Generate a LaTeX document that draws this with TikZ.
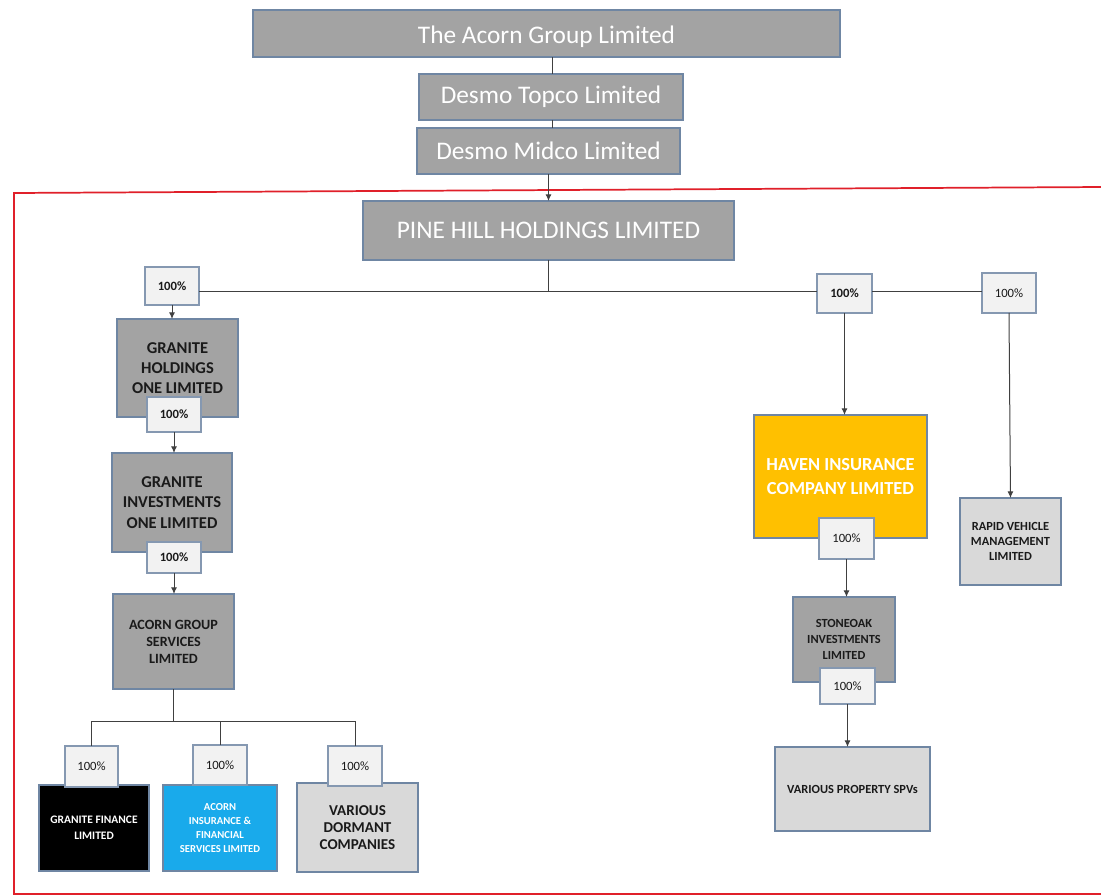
\documentclass[tikz,border=0pt]{standalone}
\usepackage{fontspec}
\setmainfont{Carlito}
\usetikzlibrary{arrows.meta}
\definecolor{dgray}{HTML}{A3A3A3}
\definecolor{lgray}{HTML}{D9D9D9}
\definecolor{pgray}{HTML}{F2F2F2}
\definecolor{bblue}{HTML}{6F86A3}
\definecolor{hav}{HTML}{FFC000}
\definecolor{acblue}{HTML}{19AAEB}
\definecolor{conn}{HTML}{404040}
\definecolor{redframe}{HTML}{E0202A}
\definecolor{ink}{HTML}{1A1A1A}
\newcommand\bx[7]{\node[#6,minimum width={(#4-#2)*0.75pt},minimum height={(#5-#3)*0.75pt}] (#1) at ({(#2+#4)/2},{(#3+#5)/2}) {#7};}
\tikzset{
  box/.style={draw=bblue, line width=0.8pt, inner sep=0pt, outer sep=0pt, align=center},
  dbox/.style={box, fill=dgray},
  topbox/.style={dbox, text=white, font=\fontsize{19}{22}\selectfont},
  darkbox/.style={dbox, text=ink, font=\fontsize{12.4}{14.8}\selectfont\bfseries},
  lbox/.style={box, fill=lgray, text=ink},
  pct/.style={box, fill=pgray, draw=bblue!85, text=ink, font=\fontsize{9.5}{11}\selectfont},
  pctb/.style={pct, font=\fontsize{9.5}{11}\selectfont\bfseries},
  line/.style={draw=conn, line width=0.75pt},
  arr/.style={line, -{Latex[length=5pt,width=4.5pt]}},
}
\begin{document}
\begin{tikzpicture}[x=0.75pt,y=-0.75pt]
\useasboundingbox (0,0) rectangle (1101,895);
% red frame
\draw[redframe, line width=1.3pt] (1104,187) -- (14,193) -- (14,894) -- (1104,894);
% main boxes
\bx{acorn}{253}{10}{840}{57}{topbox, text depth=0pt}{\raisebox{-2pt}{The Acorn Group Limited}}
\bx{topco}{419}{74}{683}{120}{topbox}{Desmo Topco Limited}
\bx{midco}{417}{128}{680}{174}{topbox}{Desmo Midco Limited}
\bx{ph}{363}{201}{734}{260}{dbox, text=white, font=\fontsize{19}{22}\selectfont}{PINE HILL HOLDINGS LIMITED}
\bx{gh}{117}{319}{238}{417}{darkbox}{GRANITE\\HOLDINGS\\ONE LIMITED}
\bx{gi}{112}{453}{232}{552}{darkbox, font=\fontsize{12.4}{15.4}\selectfont\bfseries}{GRANITE\\INVESTMENTS\\ONE LIMITED}
\bx{acs}{113}{594}{234}{689}{darkbox, font=\fontsize{10.6}{12.7}\selectfont\bfseries}{ACORN GROUP\\SERVICES\\LIMITED}
\bx{gf}{39}{785}{149}{871}{box, fill=black, text=white, font=\fontsize{8.6}{12}\selectfont\bfseries}{GRANITE FINANCE\\LIMITED}
\bx{ai}{163}{785}{277}{871}{box, fill=acblue, text=white, font=\fontsize{8}{10.3}\selectfont\bfseries}{ACORN\\INSURANCE \&\\FINANCIAL\\SERVICES LIMITED}
\bx{vd}{297}{783}{418}{872}{lbox, font=\fontsize{11.3}{13}\selectfont\bfseries}{VARIOUS\\DORMANT\\COMPANIES}
\bx{haven}{754}{415}{927}{538}{box, fill=hav, text=white, font=\fontsize{13.8}{17.3}\selectfont\bfseries}{HAVEN INSURANCE\\COMPANY LIMITED}
\bx{rapid}{960}{498}{1061}{585}{lbox, font=\fontsize{9.3}{11.2}\selectfont\bfseries}{RAPID VEHICLE\\MANAGEMENT\\LIMITED}
\bx{so}{793}{597}{895}{682}{darkbox, font=\fontsize{9.3}{12}\selectfont\bfseries}{STONEOAK\\INVESTMENTS\\LIMITED}
\bx{spv}{775}{747}{930}{831}{lbox, font=\fontsize{9.3}{11}\selectfont\bfseries}{VARIOUS PROPERTY SPVs}
% percentage boxes
\bx{pl}{145}{267}{199}{305}{pctb}{100\%}
\bx{p2}{147}{397}{201}{432}{pctb}{100\%}
\bx{p3}{147}{542}{201}{573}{pctb}{100\%}
\bx{p4}{65}{746}{118}{787}{pct}{100\%}
\bx{p5}{193}{745}{247}{785}{pct}{100\%}
\bx{p6}{328}{746}{382}{786}{pct}{100\%}
\bx{pr1}{817}{274}{872}{313}{pctb}{100\%}
\bx{pr2}{982}{273}{1036}{313}{pct}{100\%}
\bx{p7}{819}{518}{874}{559}{pct}{100\%}
\bx{p8}{820}{668}{875}{704}{pct}{100\%}
% helper coordinates
\coordinate (c1) at (552,0);
\coordinate (bus) at (0,292);
\coordinate (bus2) at (0,721);
% connectors
\draw[line] (acorn.south -| c1) -- (topco.north -| c1);
\draw[line] (topco.south -| c1) -- (midco.north -| c1);
\draw[arr] (midco.south) -- (ph.north);
\draw[line] (ph.south) -- (ph.south |- bus);
\draw[line] (pl.east |- bus) -- (pr1.west |- bus);
\draw[line] (pr1.east |- bus) -- (pr2.west |- bus);
\draw[arr] (pl.south) -- (pl.south |- gh.north);
\draw[arr] (p2.south) -- (p2.south |- gi.north);
\draw[arr] (p3.south) -- (p3.south |- acs.north);
\draw[line] (acs.south) -- (acs.south |- bus2);
\draw[line] (p4.north |- bus2) -- (p6.north |- bus2);
\draw[line] (p4.north |- bus2) -- (p4.north);
\draw[line] (p5.north |- bus2) -- (p5.north);
\draw[line] (p6.north |- bus2) -- (p6.north);
\draw[arr] (pr1.south) -- (pr1.south |- haven.north);
\draw[arr] (pr2.south) -- (rapid.north);
\draw[arr] (p7.south) -- (p7.south |- so.north);
\draw[arr] (p8.south) -- (p8.south |- spv.north);
\end{tikzpicture}
\end{document}
